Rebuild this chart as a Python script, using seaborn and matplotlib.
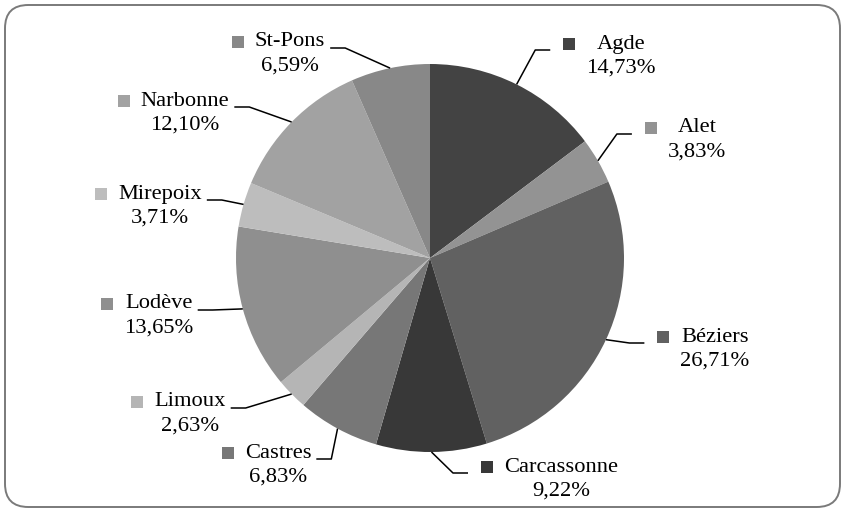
import matplotlib
matplotlib.use("Agg")
import numpy as np
import matplotlib.pyplot as plt
import seaborn as sns
from matplotlib.patches import FancyBboxPatch

# ------------------ Data ------------------
dioceses = ["Agde", "Alet", "Béziers", "Carcassonne", "Castres",
            "Limoux", "Lodève", "Mirepoix", "Narbonne", "St-Pons"]
shares = [14.73, 3.83, 26.71, 9.22, 6.83, 2.63, 13.65, 3.71, 12.10, 6.59]
grays = ["#434343", "#939393", "#616161", "#383838", "#777777",
         "#b5b5b5", "#8f8f8f", "#bdbdbd", "#a2a2a2", "#888888"]

# label layout: pixel centre of the name line, and which side of the pie it sits
label_xy = [(621, 44), (697, 128), (715, 337), (561, 467), (278, 453),
            (190, 402), (159, 304), (160, 194), (185, 101), (290, 42)]
label_side = ["R", "R", "R", "R", "L", "L", "L", "L", "L", "L"]

# ------------------ Figure ------------------
sns.set_style("white")
plt.rcParams["font.family"] = ["Liberation Serif", "DejaVu Serif"]

W, H = 845, 512
CX, CY, R = 430, 258, 194   # pie centre and radius in pixels
FS = 16.2

fig = plt.figure(figsize=(W / 100, H / 100), dpi=100)
ax = fig.add_axes([0, 0, 1, 1])

wedges, _ = ax.pie(shares, colors=grays, startangle=90, counterclock=False,
                   radius=1, wedgeprops=dict(linewidth=0))
ax.set_aspect("auto")
ax.set_xlim(-CX / R, (W - CX) / R)
ax.set_ylim(-(H - CY) / R, CY / R)
ax.axis("off")


def px(x, y):
    # pixel (top-left origin) -> data coords
    return (x - CX) / R, (CY - y) / R


# rounded border around the chart
x0, y0 = px(5, 507)
x1, y1 = px(840, 5)
border = FancyBboxPatch((x0 + 0.1, y0 + 0.1), (x1 - x0) - 0.2, (y1 - y0) - 0.2,
                        boxstyle="round,pad=0.1,rounding_size=0.12",
                        fc="none", ec="#7a7a7a", lw=1.4, clip_on=False)
ax.add_patch(border)

# labels
name_texts, pct_texts = [], []
for name, val, (lx, ly) in zip(dioceses, shares, label_xy):
    pct = f"{val:.2f}".replace(".", ",") + "%"
    t1 = ax.text(*px(lx, ly), name, ha="center", va="center", fontsize=FS, color="black")
    t2 = ax.text(*px(lx, ly + 24), pct, ha="center", va="center", fontsize=FS, color="black")
    name_texts.append(t1)
    pct_texts.append(t2)

fig.canvas.draw()
renderer = fig.canvas.get_renderer()
inv = ax.transData.inverted()

for w, c, t1, t2, side in zip(wedges, grays, name_texts, pct_texts, label_side):
    b1 = t1.get_window_extent(renderer)
    b2 = t2.get_window_extent(renderer)
    ny = (b1.y0 + b1.y1) / 2

    # legend key square
    left = min(b1.x0, b2.x0)
    mx = left - 11 - 6
    ax.scatter(*inv.transform((mx, ny)), marker="s", s=78, color=c, linewidths=0, zorder=3)

    # leader line: short horizontal piece then straight to wedge edge
    ly = ny - 6
    if side == "R":
        sx = mx - 6 - 13
        ex = sx - 15
    else:
        sx = b1.x1 + 5
        ex = sx + 15
    mid = np.deg2rad((w.theta1 + w.theta2) / 2)
    edge = (np.cos(mid), np.sin(mid))
    p_start = inv.transform((sx, ly))
    p_elbow = inv.transform((ex, ly))
    ax.plot([p_start[0], p_elbow[0], edge[0]], [p_start[1], p_elbow[1], edge[1]],
            color="black", lw=1.1, solid_capstyle="butt", zorder=4)

fig.savefig("out.png", dpi=100)
